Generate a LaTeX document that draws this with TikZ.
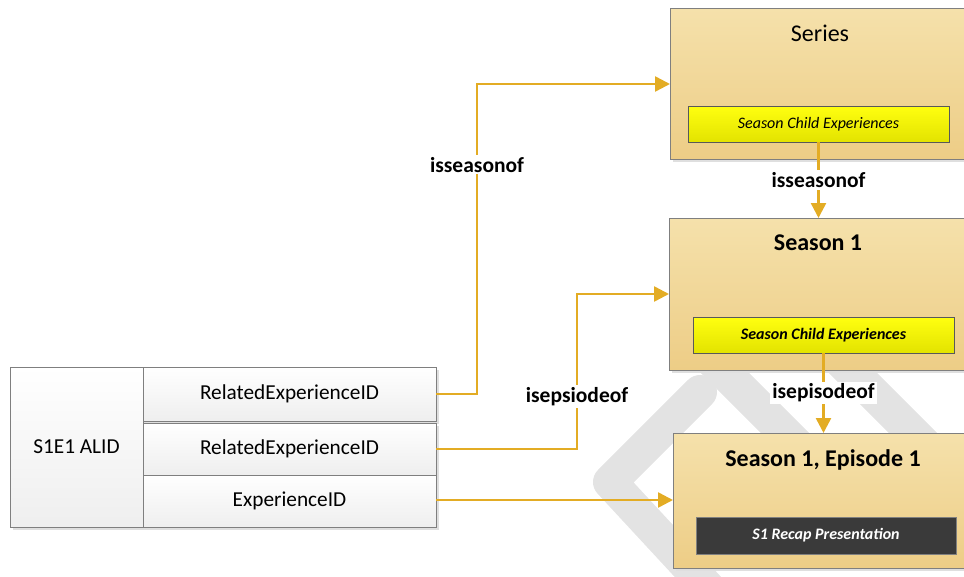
\documentclass[tikz,border=0pt]{standalone}
\usepackage{fontspec}
\setmainfont{Carlito}
\usetikzlibrary{arrows.meta,shadows}

\definecolor{linkgold}{HTML}{E3AC24}
\definecolor{mediatop}{HTML}{F5E1AB}
\definecolor{mediabot}{HTML}{EDCD86}
\definecolor{childtop}{HTML}{FFFF10}
\definecolor{childbot}{HTML}{E3E300}
\definecolor{recapgray}{HTML}{3A3A3A}
\definecolor{edgegray}{HTML}{7F7F7F}
\definecolor{markgray}{HTML}{E3E3E3}

\begin{document}
\begin{tikzpicture}[x=1pt,y=-1pt,
	every node/.style={inner sep=0pt, outer sep=0pt, font=\fontsize{21.3}{24}\selectfont},
	boxshadow/.style={drop shadow={shadow xshift=3pt, shadow yshift=-3pt, fill=gray!25, opacity=1}},
	field/.style={draw=edgegray, top color=white, bottom color=gray!13, boxshadow,
		anchor=north west, minimum width=293pt},
	media/.style={draw=edgegray, top color=mediatop, bottom color=mediabot, boxshadow,
		anchor=north west, minimum width=300pt},
	child/.style={draw=edgegray!70!black, top color=childtop, bottom color=childbot,
		anchor=north west, font=\fontsize{16}{18}\selectfont\itshape},
	recap/.style={draw=gray, fill=recapgray, text=white, anchor=north west,
		font=\fontsize{16}{18}\selectfont\bfseries\itshape},
	heading/.style={font=\fontsize{24}{26}\selectfont\bfseries},
	link/.style={draw=linkgold, line width=2.5pt, -{Triangle[length=15pt,width=15pt]}},
	linklabel/.style={fill=white, inner sep=2pt, font=\fontsize{21.5}{24}\selectfont\bfseries}]

	\clip (0,0) rectangle (964,576);

	% watermark behind the boxes
	\draw[markgray, line width=34pt, line cap=round, line join=round]
		(700,392) -- (610,482) -- (710,590);
	\draw[markgray, line width=34pt, line cap=round]
		(712,360) -- (800,448);
	\draw[markgray, line width=34pt, line cap=round]
		(830,350) -- (985,505);

	% ALID record
	\node[field, minimum width=133pt, minimum height=160pt] (alid) at (10,367) {S1E1 ALID};
	\node[field, minimum height=54pt] (f1) at (143,367) {RelatedExperienceID};
	\node[field, minimum height=52pt] (f2) at (143,423) {RelatedExperienceID};
	\node[field, minimum height=52pt] (f3) at (143,475) {ExperienceID};

	% experiences
	\node[media, minimum height=151pt] (series) at (670,8) {};
	\node[font=\fontsize{24}{26}\selectfont] (seriest) at (820,33) {Series};
	\node[child, minimum width=261pt, minimum height=36pt] (child1) at (688,106) {Season Child Experiences};

	\node[media, minimum height=152pt] (season) at (669,218) {};
	\node[heading] (seasont) at (818,243) {Season 1};
	\node[child, minimum width=261pt, minimum height=36pt, font=\fontsize{16}{18}\selectfont\bfseries\itshape]
		(child2) at (693,317) {Season Child Experiences};

	\node[media, minimum height=135pt] (episode) at (673,433) {};
	\node[heading] (episodet) at (823,460) {Season 1, Episode 1};
	\node[recap, minimum width=260pt, minimum height=37pt] (recap) at (696,517) {S1 Recap Presentation};

	% links
	\draw[link] (f1.east) -- ++(41,0) |- node[linklabel, pos=0.37] {isseasonof} (series.west |- 0,84);
	\draw[link] (f2.east) -- ++(141,0) |- node[linklabel, pos=0.17] {isepsiodeof} (season.west |- 0,294);
	\draw[link] (f3.east |- 0,500) -- (episode.west |- 0,500);
	\draw[link] (child1.south) -- node[linklabel] {isseasonof} (child1.south |- season.north);
	\draw[link] (child2.south) -- node[linklabel] {isepisodeof} (child2.south |- episode.north);
\end{tikzpicture}
\end{document}
